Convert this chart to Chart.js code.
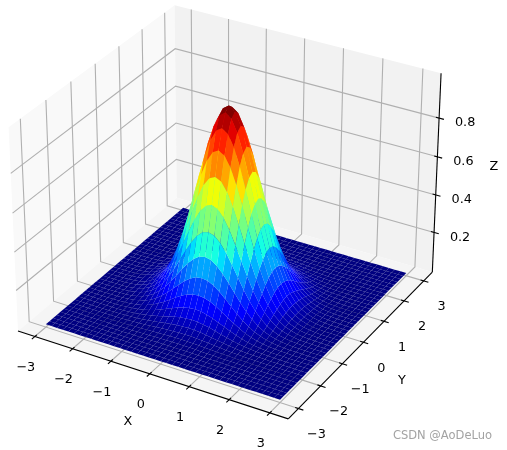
<!DOCTYPE html>
<html><head><meta charset="utf-8">
<style>html,body{margin:0;padding:0;background:#fff}canvas{display:block}</style>
<script src="https://cdn.jsdelivr.net/npm/chart.js@4"></script>
</head><body><canvas id="c" width="507" height="450"></canvas>
<script>
const xGrid=[-3,-2.85,-2.7,-2.55,-2.4,-2.25,-2.1,-1.95,-1.8,-1.65,-1.5,-1.35,-1.2,-1.05,-.9,-.75,-.6,-.45,-.3,-.15,0,.15,.3,.45,.6,.75,.9,1.05,1.2,1.35,1.5,1.65,1.8,1.95,2.1,2.25,2.4,2.55,2.7,2.85,3];
const yGrid=xGrid.slice();
const row0=[0,0,.001,.002,.003,.006,.012,.022,.039,.066,.105,.162,.237,.332,.445,.57,.698,.817,.914,.978,1,.978,.914,.817,.698,.57,.445,.332,.237,.162,.105,.066,.039,.022,.012,.006,.003,.002,.001,0,0];
const row1=[0,0,.001,.001,.003,.006,.012,.022,.038,.064,.103,.158,.232,.325,.435,.557,.683,.799,.894,.956,.978,.956,.894,.799,.683,.557,.435,.325,.232,.158,.103,.064,.038,.022,.012,.006,.003,.001,.001,0,0];
const row2=[0,0,.001,.001,.003,.006,.011,.02,.036,.06,.096,.148,.217,.303,.407,.521,.638,.747,.835,.894,.914,.894,.835,.747,.638,.521,.407,.303,.217,.148,.096,.06,.036,.02,.011,.006,.003,.001,.001,0,0];
const row3=[0,0,.001,.001,.003,.005,.01,.018,.032,.054,.086,.132,.194,.271,.364,.466,.57,.667,.747,.799,.817,.799,.747,.667,.57,.466,.364,.271,.194,.132,.086,.054,.032,.018,.01,.005,.003,.001,.001,0,0];
const row4=[0,0,0,.001,.002,.004,.008,.016,.027,.046,.073,.113,.165,.232,.311,.398,.487,.57,.638,.683,.698,.683,.638,.57,.487,.398,.311,.232,.165,.113,.073,.046,.027,.016,.008,.004,.002,.001,0,0,0];
const row5=[0,0,0,.001,.002,.003,.007,.013,.022,.037,.06,.092,.135,.189,.254,.325,.398,.466,.521,.557,.57,.557,.521,.466,.398,.325,.254,.189,.135,.092,.06,.037,.022,.013,.007,.003,.002,.001,0,0,0];
const row6=[0,0,0,.001,.001,.003,.005,.01,.017,.029,.047,.072,.105,.148,.198,.254,.311,.364,.407,.435,.445,.435,.407,.364,.311,.254,.198,.148,.105,.072,.047,.029,.017,.01,.005,.003,.001,.001,0,0,0];
const row7=[0,0,0,0,.001,.002,.004,.007,.013,.022,.035,.054,.079,.11,.148,.189,.232,.271,.303,.325,.332,.325,.303,.271,.232,.189,.148,.11,.079,.054,.035,.022,.013,.007,.004,.002,.001,0,0,0,0];
const row8=[0,0,0,0,.001,.001,.003,.005,.009,.016,.025,.038,.056,.079,.105,.135,.165,.194,.217,.232,.237,.232,.217,.194,.165,.135,.105,.079,.056,.038,.025,.016,.009,.005,.003,.001,.001,0,0,0,0];
const row9=[0,0,0,0,0,.001,.002,.004,.006,.011,.017,.026,.038,.054,.072,.092,.113,.132,.148,.158,.162,.158,.148,.132,.113,.092,.072,.054,.038,.026,.017,.011,.006,.004,.002,.001,0,0,0,0,0];
const row10=[0,0,0,0,0,.001,.001,.002,.004,.007,.011,.017,.025,.035,.047,.06,.073,.086,.096,.103,.105,.103,.096,.086,.073,.06,.047,.035,.025,.017,.011,.007,.004,.002,.001,.001,0,0,0,0,0];
const row11=[0,0,0,0,0,0,.001,.001,.003,.004,.007,.011,.016,.022,.029,.037,.046,.054,.06,.064,.066,.064,.06,.054,.046,.037,.029,.022,.016,.011,.007,.004,.003,.001,.001,0,0,0,0,0,0];
const row12=[0,0,0,0,0,0,0,.001,.002,.003,.004,.006,.009,.013,.017,.022,.027,.032,.036,.038,.039,.038,.036,.032,.027,.022,.017,.013,.009,.006,.004,.003,.002,.001,0,0,0,0,0,0,0];
const row13=[0,0,0,0,0,0,0,0,.001,.001,.002,.004,.005,.007,.01,.013,.016,.018,.02,.022,.022,.022,.02,.018,.016,.013,.01,.007,.005,.004,.002,.001,.001,0,0,0,0,0,0,0,0];
const row14=[0,0,0,0,0,0,0,0,0,.001,.001,.002,.003,.004,.005,.007,.008,.01,.011,.012,.012,.012,.011,.01,.008,.007,.005,.004,.003,.002,.001,.001,0,0,0,0,0,0,0,0,0];
const row15=[0,0,0,0,0,0,0,0,0,0,.001,.001,.001,.002,.003,.003,.004,.005,.006,.006,.006,.006,.006,.005,.004,.003,.003,.002,.001,.001,.001,0,0,0,0,0,0,0,0,0,0];
const row16=[0,0,0,0,0,0,0,0,0,0,0,0,.001,.001,.001,.002,.002,.003,.003,.003,.003,.003,.003,.003,.002,.002,.001,.001,.001,0,0,0,0,0,0,0,0,0,0,0,0];
const row17=[0,0,0,0,0,0,0,0,0,0,0,0,0,0,.001,.001,.001,.001,.001,.001,.002,.001,.001,.001,.001,.001,.001,0,0,0,0,0,0,0,0,0,0,0,0,0,0];
const row18=[0,0,0,0,0,0,0,0,0,0,0,0,0,0,0,0,0,.001,.001,.001,.001,.001,.001,.001,0,0,0,0,0,0,0,0,0,0,0,0,0,0,0,0,0];
const row19=[0,0,0,0,0,0,0,0,0,0,0,0,0,0,0,0,0,0,0,0,0,0,0,0,0,0,0,0,0,0,0,0,0,0,0,0,0,0,0,0,0];
const zRows=[row19,row19,row18,row17,row16,row15,row14,row13,row12,row11,row10,row9,row8,row7,row6,row5,row4,row3,row2,row1,row0,row1,row2,row3,row4,row5,row6,row7,row8,row9,row10,row11,row12,row13,row14,row15,row16,row17,row18,row19,row19];
const xTicks=[-3,-2,-1,0,1,2,3];
const yTicks=[-3,-2,-1,0,1,2,3];
const zTicks=[.2,.4,.6,.8];
const xLim=[-3.45,3.45], yLim=[-3.45,3.45], zLim=[-.015,1.028];

// camera: elev 30, azim -60, distance 10
const hx=.5714,hy=.5714,hz=.4286;
function proj(x,y,z){
  const X=((x-xLim[0])/(xLim[1]-xLim[0])-.5)*2*hx;
  const Y=((y-yLim[0])/(yLim[1]-yLim[0])-.5)*2*hy;
  const Z=((z-zLim[0])/(zLim[1]-zLim[0])-.5)*2*hz;
  const depth=10-(.4330127*X-.75*Y+.5*Z);
  return {x:(.8660254*X+.5*Y)/depth,y:(-.25*X+.4330127*Y+.8660254*Z)/depth,depth};
}
function jet(t){
  const f=(s,v)=>{for(let i=1;i<s.length;i++)if(t<=s[i]){return v[i-1]+(v[i]-v[i-1])*(t-s[i-1])/(s[i]-s[i-1]);}return v[v.length-1];};
  const r=f([0,.35,.66,.89,1],[0,0,1,1,.5]),g=f([0,.125,.375,.64,.91,1],[0,0,1,1,0,0]),b=f([0,.11,.34,.65,1],[.5,1,1,0,0]);
  return `rgb(${Math.round(r*255)},${Math.round(g*255)},${Math.round(b*255)})`;
}
const [x0,x1]=xLim,[y0,y1]=yLim,[z0,z1]=zLim;
const ds=[];
const line=(pts,color,w,fill)=>({data:pts.map(p=>{const q=proj(p[0],p[1],p[2]);return{x:q.x,y:q.y};}),showLine:true,pointRadius:0,borderColor:color,borderWidth:w,backgroundColor:fill||'transparent',fill:fill?'shape':false,tension:0,borderCapStyle:'butt'});
// panes
ds.push(line([[x0,y0,z0],[x0,y1,z0],[x0,y1,z1],[x0,y0,z1],[x0,y0,z0]],'transparent',0,'#f9f9f9'));
ds.push(line([[x0,y1,z0],[x1,y1,z0],[x1,y1,z1],[x0,y1,z1],[x0,y1,z0]],'transparent',0,'#f2f2f2'));
ds.push(line([[x0,y0,z0],[x1,y0,z0],[x1,y1,z0],[x0,y1,z0],[x0,y0,z0]],'transparent',0,'#f5f5f5'));
// grid
const G='#b0b0b0',GW=1.1;
xTicks.forEach(v=>ds.push(line([[v,y0,z0],[v,y1,z0],[v,y1,z1]],G,GW)));
yTicks.forEach(v=>ds.push(line([[x1,v,z0],[x0,v,z0],[x0,v,z1]],G,GW)));
zTicks.forEach(v=>ds.push(line([[x0,y0,v],[x0,y1,v],[x1,y1,v]],G,GW)));
// axes
const K='#000',KW=1.1;
ds.push(line([[x0,y0,z0],[x1,y0,z0]],K,KW));
ds.push(line([[x1,y0,z0],[x1,y1,z0]],K,KW));
ds.push(line([[x1,y1,z0],[x1,y1,z1]],K,KW));
xTicks.forEach(v=>ds.push(line([[v,y0-.12,z0],[v,y0+.08,z0]],K,KW)));
yTicks.forEach(v=>ds.push(line([[x1+.12,v,z0],[x1-.08,v,z0]],K,KW)));
zTicks.forEach(v=>ds.push(line([[x1+.12,y1,v],[x1-.08,y1,v]],K,KW)));
// surface
const faces=[];let zMax=0;
for(let j=0;j<yGrid.length-1;j++)for(let i=0;i<xGrid.length-1;i++){
  const c=[[xGrid[i],yGrid[j],zRows[j][i]],[xGrid[i+1],yGrid[j],zRows[j][i+1]],[xGrid[i+1],yGrid[j+1],zRows[j+1][i+1]],[xGrid[i],yGrid[j+1],zRows[j+1][i]]];
  const m=(c[0][2]+c[1][2]+c[2][2]+c[3][2])/4;
  const d=c.reduce((s,p)=>s+proj(p[0],p[1],p[2]).depth,0)/4;
  zMax=Math.max(zMax,m);
  faces.push({c,m,d});
}
faces.sort((a,b)=>b.d-a.d);
faces.forEach(f=>ds.push(line([...f.c,f.c[0]],'transparent',0,jet(f.m/zMax))));
ds.forEach((d,i)=>{d.order=ds.length-i;});

const textPlugin={id:'axisText',afterDraw(chart){
  const ctx=chart.ctx,sx=chart.scales.x,sy=chart.scales.y;
  const px=(x,y,z)=>{const q=proj(x,y,z);return[sx.getPixelForValue(q.x),sy.getPixelForValue(q.y)];};
  const fmt=v=>String(v).replace('-','\u2212');
  ctx.save();ctx.fillStyle='#000';ctx.font='12.8px "DejaVu Sans"';ctx.textAlign='center';ctx.textBaseline='middle';
  xTicks.forEach(v=>{const p=px(v,y0,z0);ctx.fillText(fmt(v),p[0]-9,p[1]+31);});
  yTicks.forEach(v=>{const p=px(x1,v,z0);ctx.fillText(fmt(v),p[0]+18,p[1]+26);});
  zTicks.forEach(v=>{const p=px(x1,y1,v);ctx.fillText(v.toFixed(1),p[0]+26,p[1]+5);});
  ctx.fillText('X',128,422);ctx.fillText('Y',402,381);ctx.fillText('Z',494,167);
  ctx.fillStyle='#a3a3a3';ctx.font='11.5px "DejaVu Sans"';ctx.textAlign='right';
  ctx.fillText('CSDN @AoDeLuo',492,436);
  ctx.restore();
}};
new Chart(document.getElementById('c'),{type:'scatter',data:{datasets:ds},plugins:[textPlugin],options:{
  responsive:false,animation:false,events:[],
  layout:{padding:0},
  plugins:{legend:{display:false},tooltip:{enabled:false},filler:{drawTime:'beforeDatasetDraw'}},
  scales:{x:{type:'linear',display:false,min:-.08444,max:.10264},y:{type:'linear',display:false,min:-.09131,max:.07474}}
}});
</script></body></html>
